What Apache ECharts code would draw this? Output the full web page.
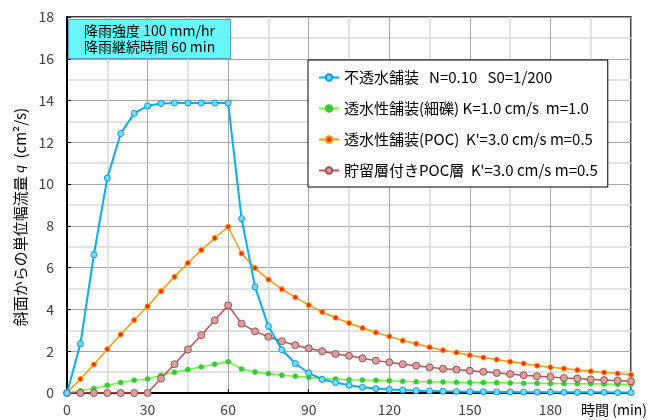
<!DOCTYPE html>
<html>
<head>
<meta charset="utf-8">
<script src="https://cdn.jsdelivr.net/npm/echarts@6/dist/echarts.min.js"></script>
<style>html,body{margin:0;padding:0;background:#fff}#c{width:650px;height:420px}</style>
</head>
<body>
<div id="c"></div>
<script>
const times = [0,5,10,15,20,25,30,35,40,45,50,55,60,65,70,75,80,85,90,95,100,105,110,115,120,125,130,135,140,145,150,155,160,165,170,175,180,185,190,195,200,205,210];
const imperv = [0,2.36,6.62,10.29,12.42,13.39,13.75,13.86,13.88,13.88,13.88,13.88,13.88,
  8.35,5.08,3.19,2.07,1.41,0.96,0.65,0.5,0.37,0.27,0.21,0.17,0.14,0.11,0.1,0.08,
  0.07,0.06,0.06,0.05,0.05,0.04,0.04,0.04,0.03,0.03,0.03,0.03,0.02,0.02];
const gravel = [0,0.11,0.21,0.37,0.5,0.61,0.67,0.85,0.99,1.12,1.25,1.38,1.5,
  1.15,1.01,0.93,0.85,0.8,0.75,0.7,0.67,0.64,0.62,0.61,0.59,0.56,0.54,0.54,0.53,
  0.51,0.5,0.5,0.49,0.48,0.47,0.47,0.46,0.45,0.44,0.44,0.43,0.42,0.42];
const poc = [0,0.67,1.36,2.1,2.8,3.49,4.15,4.87,5.56,6.22,6.84,7.42,7.96,
  6.68,5.98,5.43,4.97,4.58,4.21,3.88,3.6,3.35,3.11,2.9,2.71,2.51,2.36,2.19,2.05,
  1.94,1.81,1.7,1.6,1.5,1.41,1.31,1.23,1.17,1.1,1.04,0.98,0.93,0.87];
const storage = [0,0,0,0,0,0,0,0.69,1.38,2.08,2.77,3.48,4.2,
  3.32,2.95,2.69,2.48,2.29,2.14,2.0,1.87,1.78,1.66,1.55,1.47,1.38,1.31,1.23,1.16,
  1.12,1.07,1.02,0.96,0.91,0.85,0.8,0.77,0.72,0.69,0.65,0.62,0.59,0.56];
const seriesNames = [
  '不透水舗装   N=0.10   S0=1/200',
  '透水性舗装(細礫) K=1.0 cm/s  m=1.0',
  '透水性舗装(POC)  K\'=3.0 cm/s m=0.5',
  '貯留層付きPOC層  K\'=3.0 cm/s m=0.5'
];
const yTicks = [0,2,4,6,8,10,12,14,16,18];
const xTicks = [0,30,60,90,120,150,180];
const infoText = '降雨強度 100 mm/hr\n降雨継続時間 60 min';

const FONT = '"Noto Sans CJK JP", "Noto Sans", sans-serif';
function pairs(vals){ return times.map((t,i)=>[t, vals[i]]); }

const chart = echarts.init(document.getElementById('c'), null, {renderer:'canvas'});
chart.setOption({
  animation: false,
  textStyle: {fontFamily: FONT},
  title: {
    text: infoText,
    left: 68, top: 19,
    padding: [4, 16, 4, 16],
    backgroundColor: '#66f7fa',
    borderColor: '#4f9fc4',
    borderWidth: 1,
    textStyle: {fontSize: 14, fontWeight: 'normal', color: '#000', lineHeight: 16, fontFamily: FONT, align: 'center'},
    textAlign: 'left'
  },
  legend: {
    orient: 'vertical',
    left: 308, top: 60,
    padding: [10, 10, 9, 10],
    itemGap: 16,
    itemWidth: 20, itemHeight: 8,
    backgroundColor: '#fff',
    borderColor: '#000', borderWidth: 1,
    textStyle: {fontSize: 15, color: '#000', fontFamily: FONT},
    data: seriesNames
  },
  grid: {left: 67, right: 18, top: 17, bottom: 27, show: true, borderColor: '#000', borderWidth: 1.5, containLabel: false},
  xAxis: {
    type: 'value', min: 0, max: 210, interval: 30,
    axisLine: {lineStyle: {color: '#000', width: 2}},
    axisTick: {inside: true, length: 4, lineStyle: {color: '#000'}},
    axisLabel: {fontSize: 14, color: '#404040', margin: 10,
      formatter: v => xTicks.indexOf(v) >= 0 ? String(v) : ''},
    splitLine: {show: true, lineStyle: {color: '#a6a6a6', width: 1}},
    minorTick: {show: false, splitNumber: 2},
    minorSplitLine: {show: true, lineStyle: {color: '#d9d9d9', width: 1.5}},
    name: '時間 (min)', nameLocation: 'end', nameGap: 16,
    nameTextStyle: {align: 'right', verticalAlign: 'top', padding: [10, 0, 0, 0], fontSize: 14, color: '#000', fontFamily: FONT}
  },
  yAxis: {
    type: 'value', min: 0, max: 18, interval: 2,
    axisLine: {show: true, lineStyle: {color: '#000', width: 2}},
    axisTick: {show: true, inside: true, length: 4, lineStyle: {color: '#000'}},
    axisLabel: {fontSize: 14, color: '#404040', margin: 13,
      formatter: v => yTicks.indexOf(v) >= 0 ? String(v) : ''},
    splitLine: {show: true, lineStyle: {color: '#a6a6a6', width: 1}},
    minorTick: {show: false, splitNumber: 2},
    minorSplitLine: {show: true, lineStyle: {color: '#d9d9d9', width: 1.5}},
    name: '{a|斜面からの単位幅流量 }{q|q}{a|  (cm²/s)}',
    nameLocation: 'middle', nameGap: 38,
    nameTextStyle: {
      padding: [0, 24, 0, 0],
      rich: {
        a: {fontSize: 15, color: '#000', fontFamily: FONT},
        q: {fontSize: 15, color: '#000', fontStyle: 'italic', fontFamily: '"Liberation Serif", serif'}
      }
    }
  },
  series: [
    {name: seriesNames[0], type: 'line', data: pairs(imperv), symbol: 'circle', symbolSize: 6,
     lineStyle: {color: '#00b0f0', width: 2}, itemStyle: {color: '#7fd8ff', borderColor: '#0099ff', borderWidth: 1}, z: 5},
    {name: seriesNames[1], type: 'line', data: pairs(gravel), symbol: 'circle', symbolSize: 5,
     lineStyle: {color: '#66ff33', width: 1.5}, itemStyle: {color: '#33cc33', borderColor: '#33cc33', borderWidth: 0.5}, z: 3},
    {name: seriesNames[2], type: 'line', data: pairs(poc), symbol: 'circle', symbolSize: 5,
     lineStyle: {color: '#ff9900', width: 1.5}, itemStyle: {color: '#ff2a00', borderColor: '#ff9900', borderWidth: 1}, z: 4},
    {name: seriesNames[3], type: 'line', data: pairs(storage), symbol: 'circle', symbolSize: 7,
     lineStyle: {color: '#c0504d', width: 1.5}, itemStyle: {color: '#d9a0a0', borderColor: '#a05050', borderWidth: 1}, z: 4}
  ]
});
</script>
</body>
</html>
